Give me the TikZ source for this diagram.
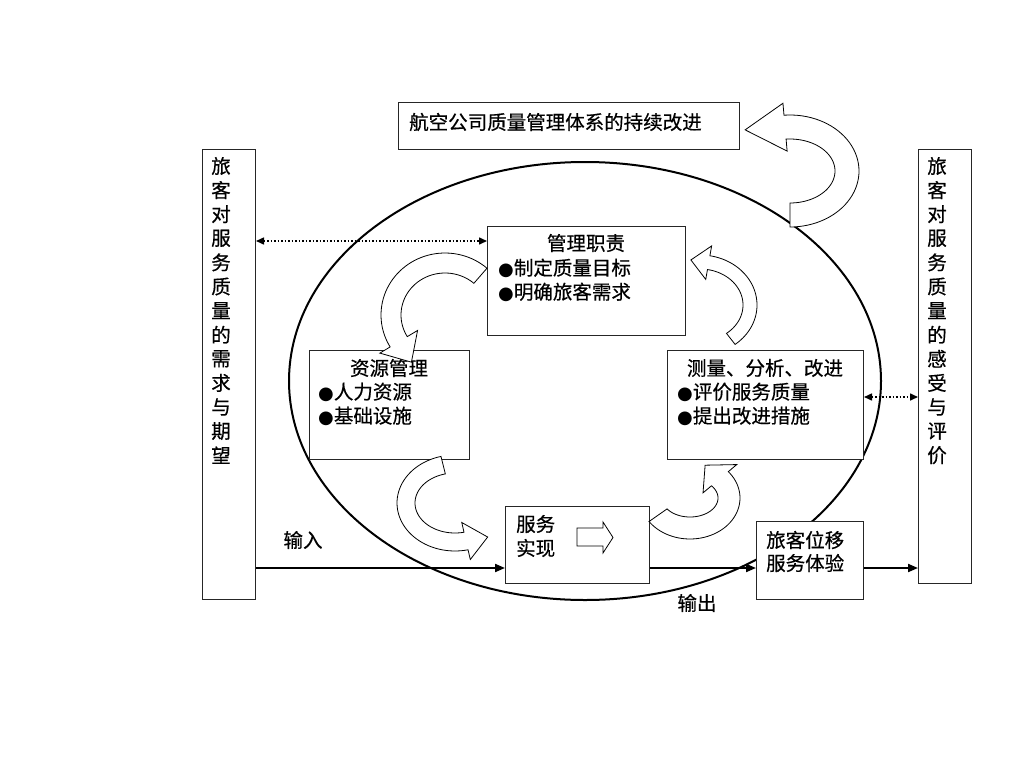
\documentclass[tikz,border=0pt]{standalone}
\usepackage{fontspec}
\usetikzlibrary{arrows.meta}
\newfontfamily\cjk{Noto Sans CJK SC}[FakeBold=0.5]
\newfontfamily\symf{DejaVu Sans}
\newcommand\bul{{\symf\fontsize{18}{24}\selectfont ●}}
\tikzset{
  box/.style={draw=black!85, line width=1pt, fill=white, inner sep=0, anchor=north west},
  txt/.style={inner sep=0, font=\cjk\fontsize{19.5}{24}\selectfont},
  blockarrow/.style={draw=black, line width=0.8pt, fill=white, line join=miter},
  flow/.style={line width=2pt, -{Triangle[length=10pt,width=8pt]}},
  dotarrow/.style={line width=1.5pt, dash pattern=on 1.5pt off 2pt, {Triangle[length=8pt,width=7pt]}-{Triangle[length=8pt,width=7pt]}}
}
% curved block arrow: cx cy rx ry a1 a2 w h L (angles decreasing)
\newcommand\curvarr[9]{%
  \pgfmathsetmacro\tipx{#1+#3*cos(#6)+#9*(#3*sin(#6))/veclen(#3*sin(#6),#4*cos(#6))}%
  \pgfmathsetmacro\tipy{#2+#4*sin(#6)-#9*(#4*cos(#6))/veclen(#3*sin(#6),#4*cos(#6))}%
  \draw[blockarrow] plot[domain=#5:#6,samples=50] ({#1+(#3+#7)*cos(\x)},{#2+(#4+#7)*sin(\x)})
    -- ({#1+(#3+#8)*cos(#6)},{#2+(#4+#8)*sin(#6)})
    -- (\tipx,\tipy)
    -- ({#1+(#3-#8)*cos(#6)},{#2+(#4-#8)*sin(#6)})
    -- plot[domain=#6:#5,samples=50] ({#1+(#3-#7)*cos(\x)},{#2+(#4-#7)*sin(\x)})
    -- cycle;}
\begin{document}
\begin{tikzpicture}[x=1pt,y=-1pt]
\fill[white] (0,0) rectangle (1024,768);
\useasboundingbox (0,0) rectangle (1024,768);

% big ellipse
\draw[line width=2pt] (585,381) ellipse [x radius=296pt, y radius=219pt];

% top curved arrow (continuous improvement)
\curvarr{790}{171}{57}{44}{90}{-95}{12}{24}{40}

% title box
\node[box, minimum width=341pt, minimum height=47pt] (title) at (398,102) {};
\node[txt, anchor=west] (titletxt) at (409,122) {航空公司质量管理体系的持续改进};

% side boxes
\node[box, minimum width=53pt, minimum height=450pt] (lbox) at (202,149) {};
\node[box, minimum width=53pt, minimum height=434pt] (rbox) at (918,149) {};
\foreach \c [count=\i] in {旅,客,对,服,务,质,量,的,需,求,与,期,望}
  \node[txt] (l\i) at (221,{166+24.1*(\i-1)}) {\c};
\foreach \c [count=\i] in {旅,客,对,服,务,质,量,的,感,受,与,评,价}
  \node[txt] (r\i) at (937,{166+24.1*(\i-1)}) {\c};

% management responsibility
\node[box, minimum width=198pt, minimum height=109pt] (mgmt) at (487,226) {};
\node[txt] (mgmtT) at (586,243) {管理职责};
\node[txt, anchor=west] (mgmt1) at (498,268) {\bul 制定质量目标};
\node[txt, anchor=west] (mgmt2) at (498,292) {\bul 明确旅客需求};

% resource management
\node[box, minimum width=160pt, minimum height=109pt] (res) at (309,350) {};
\node[txt] (resT) at (389,368) {资源管理};
\node[txt, anchor=west] (res1) at (318,392) {\bul 人力资源};
\node[txt, anchor=west] (res2) at (318,416) {\bul 基础设施};

% measurement
\node[box, minimum width=196pt, minimum height=109pt] (meas) at (667,350) {};
\node[txt] (measT) at (765,368) {测量、分析、改进};
\node[txt, anchor=west] (meas1) at (677,392) {\bul 评价服务质量};
\node[txt, anchor=west] (meas2) at (677,416) {\bul 提出改进措施};

% service realisation
\node[box, minimum width=144pt, minimum height=77pt] (svc) at (505,506) {};
\node[txt, anchor=west] (svc1) at (516,524) {服务};
\node[txt, anchor=west] (svc2) at (516,548) {实现};
\draw[blockarrow] (577,528) -- (603,528) -- (603,522) -- (613,537.5) -- (603,553) -- (603,546) -- (577,546) -- cycle;

% output box
\node[box, minimum width=107pt, minimum height=78pt] (out) at (756,521) {};
\node[txt, anchor=west] (out1) at (766,540) {旅客位移};
\node[txt, anchor=west] (out2) at (766,563) {服务体验};

% cycle arrows
\curvarr{445}{315}{54}{52}{-49}{-211}{10}{22}{24}
\curvarr{700}{305}{50}{43}{52}{-80}{7}{17}{18}
\curvarr{455}{503}{49}{39}{-104}{-283}{9}{19}{22}
\curvarr{690}{498}{39}{30}{145}{-40}{11}{22}{20}

% flow arrows
\coordinate (fy) at (0,568);
\draw[flow] (lbox.east |- fy) -- (svc.west |- fy);
\draw[flow] (svc.east |- fy) -- (out.west |- fy);
\draw[flow] (out.east |- fy) -- (rbox.west |- fy);
\node[txt] (inlab) at (303,540) {输入};
\node[txt] (outlab) at (697,603) {输出};

% dotted arrows
\coordinate (dy1) at (0,241);
\coordinate (dy2) at (0,397);
\draw[dotarrow] (lbox.east |- dy1) -- (mgmt.west |- dy1);
\draw[dotarrow] (meas.east |- dy2) -- (rbox.west |- dy2);
\end{tikzpicture}
\end{document}
